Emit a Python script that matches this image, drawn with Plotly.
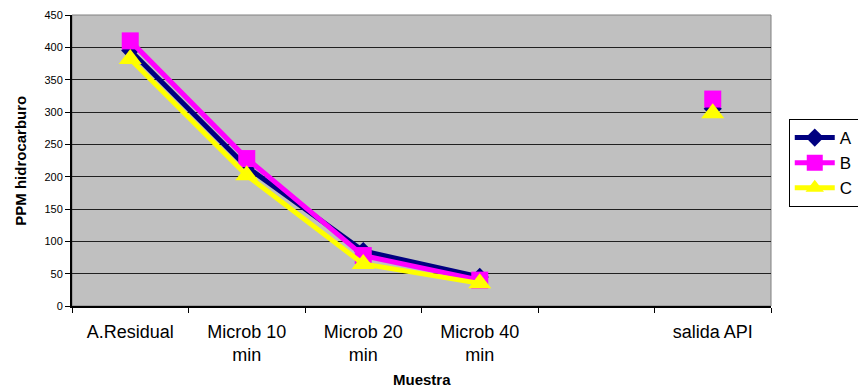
import plotly.graph_objects as go

categories = ["A.Residual", "Microb 10<br>min", "Microb 20<br>min", "Microb 40<br>min", "", "salida API"]
serie_a = [395, 215, 85, 45, None, 305]
serie_b = [410, 228, 78, 40, None, 320]
serie_c = [382, 202, 65, 35, None, 298]
y_ticks = [0, 50, 100, 150, 200, 250, 300, 350, 400, 450]

x_pos = list(range(len(categories)))

fig = go.Figure()

series = [
    ("A", serie_a, "#000080", "diamond", 14),
    ("B", serie_b, "#FF00FF", "square", 17),
    ("C", serie_c, "#FFFF00", "triangle-up", 20),
]
for name, vals, color, symbol, size in series:
    fig.add_trace(go.Scatter(
        x=x_pos,
        y=vals,
        name=name,
        mode="lines+markers",
        connectgaps=False,
        line=dict(color=color, width=5),
        marker=dict(color=color, symbol=symbol, size=size),
    ))

# the page body adds an 8px margin, so the figure is sized to fit the window
fig.update_layout(
    width=858,
    height=380,
    margin=dict(l=64, r=86, t=7, b=82),
    paper_bgcolor="white",
    plot_bgcolor="#C0C0C0",
    font=dict(family="Arial, Liberation Sans, sans-serif", color="black"),
    showlegend=True,
    legend=dict(
        x=1.0254, y=0.6426, xanchor="left", yanchor="top",
        bordercolor="black", borderwidth=1, bgcolor="white",
        font=dict(size=17), itemwidth=40, tracegroupgap=0,
    ),
)

fig.update_xaxes(
    range=[-0.5, 5.5],
    tickmode="array",
    tickvals=x_pos,
    ticktext=categories,
    ticks="",
    ticklabelstandoff=8,
    tickfont=dict(size=18),
    showgrid=False,
    showline=True, linecolor="black", linewidth=2,
    minor=dict(tickmode="linear", tick0=-0.5, dtick=1, ticks="outside",
               ticklen=5, tickcolor="black", showgrid=False),
    automargin=False,
    zeroline=False,
)
fig.update_yaxes(
    range=[0, 450],
    tickmode="array",
    tickvals=y_ticks,
    ticks="outside", ticklen=5, tickcolor="black",
    tickfont=dict(size=11),
    showgrid=True, gridcolor="#202020", gridwidth=1,
    showline=True, linecolor="black", linewidth=2,
    automargin=False,
    zeroline=False,
)

# axis titles
fig.add_annotation(text="<b>Muestra</b>", xref="paper", yref="paper",
                   x=0.5, y=-0.254, xanchor="center", yanchor="middle",
                   showarrow=False, font=dict(size=15))
fig.add_annotation(text="<b>PPM hidrocarburo</b>", xref="paper", yref="paper",
                   x=-0.074, y=0.5, xanchor="center", yanchor="middle",
                   textangle=-90, showarrow=False, font=dict(size=15))

# gray frame round the plot area
fig.add_shape(type="rect", xref="paper", yref="paper", x0=0, y0=0, x1=1, y1=1,
              line=dict(color="#808080", width=1), layer="below")

fig.write_html("out.html")
